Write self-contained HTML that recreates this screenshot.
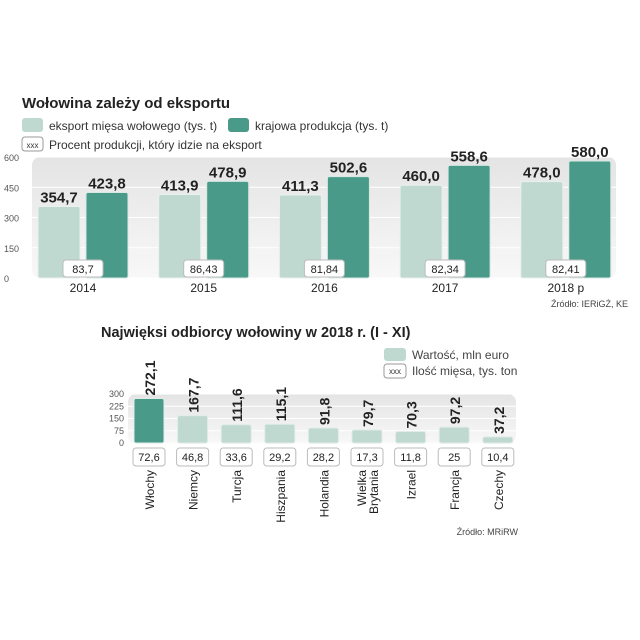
<!DOCTYPE html>
<html><head><meta charset="utf-8"><style>
body{margin:0;background:#fff;font-family:"Liberation Sans",sans-serif}
svg{display:block}
</style></head><body>
<svg id="c" width="640" height="640" viewBox="0 0 640 640">
<defs>
<linearGradient id="bg" x1="0" y1="0" x2="0" y2="1"><stop offset="0" stop-color="#e4e4e4"/><stop offset="1" stop-color="#f8f8f8"/></linearGradient>
</defs>
<text x="22" y="108" font-size="15" font-weight="bold" fill="#222">Wołowina zależy od eksportu</text>
<g><rect x="22" y="118" width="21" height="14" rx="3" fill="#bfd9d1"/><text x="49" y="130" font-size="12" fill="#333">eksport mięsa wołowego (tys. t)</text></g>
<g><rect x="228" y="118" width="21" height="14" rx="3" fill="#4a9a8a"/><text x="255" y="130" font-size="12" fill="#333">krajowa produkcja (tys. t)</text></g>
<g><rect x="22" y="137" width="21" height="14" rx="3" fill="#fff" stroke="#999"/><text x="32.5" y="148" font-size="8" text-anchor="middle" fill="#333">xxx</text><text x="49" y="149" font-size="12" fill="#333">Procent produkcji, który idzie na eksport</text></g>
<rect x="32" y="157" width="584" height="121" rx="8" fill="url(#bg)"/>
<g id="top"></g>
<text x="628" y="307" font-size="9" text-anchor="end" fill="#444">Źródło: IERiGŻ, KE</text>
<text x="101" y="337" font-size="14.5" font-weight="bold" fill="#222">Najwięksi odbiorcy wołowiny w 2018 r. (I - XI)</text>
<g><rect x="384" y="348" width="22" height="13" rx="3" fill="#bfd9d1"/><text x="412" y="359" font-size="12" fill="#444">Wartość, mln euro</text></g>
<g><rect x="384" y="364" width="22" height="14" rx="3" fill="#fff" stroke="#999"/><text x="395" y="374" font-size="8" text-anchor="middle" fill="#333">xxx</text><text x="412" y="375" font-size="12" fill="#444">Ilość mięsa, tys. ton</text></g>
<rect x="128" y="394" width="388" height="50" rx="8" fill="url(#bg)"/>
<g id="bot"></g>
<text x="518" y="535" font-size="9" text-anchor="end" fill="#444">Źródło: MRiRW</text>
</svg>
<script>
const years=["2014","2015","2016","2017","2018 p"];
const exportVals=[354.7,413.9,411.3,460.0,478.0];
const prodVals=[423.8,478.9,502.6,558.6,580.0];
const pctVals=["83,7","86,43","81,84","82,34","82,41"];
const topTicks=[0,150,300,450,600];
const countries=[["Włochy"],["Niemcy"],["Turcja"],["Hiszpania"],["Holandia"],["Wielka","Brytania"],["Izrael"],["Francja"],["Czechy"]];
const valueVals=[272.1,167.7,111.6,115.1,91.8,79.7,70.3,97.2,37.2];
const qtyVals=["72,6","46,8","33,6","29,2","28,2","17,3","11,8","25","10,4"];
const botTicks=[0,75,150,225,300];
const NS="http://www.w3.org/2000/svg";
function mk(p,t,a,txt){const e=document.createElementNS(NS,t);for(const k in a)e.setAttribute(k,a[k]);if(txt!=null)e.textContent=txt;p.appendChild(e);return e;}
const fmt=v=>v.toFixed(1).replace('.',',');
const T=document.getElementById('top');
const ty=v=>278-v*121/600;
const tx=i=>38+i*120.7;
topTicks.forEach(t=>{
 const l=mk(T,'line',{x1:32,x2:616,y1:ty(t),y2:ty(t),stroke:'#fff','stroke-width':1});
 
 
 const e=mk(T,'text',{x:4,y:ty(t)+4,'font-size':9,fill:'#555'},String(t));
 
 
});
years.forEach((y,i)=>{
 const x=tx(i);
 const a=mk(T,'rect',{x:x,y:ty(exportVals[i]),width:42,height:278-ty(exportVals[i]),rx:2,fill:'#bfd9d1',stroke:'#e8f1ee'});
 
 
 const b=mk(T,'rect',{x:x+48,y:ty(prodVals[i]),width:42,height:278-ty(prodVals[i]),rx:2,fill:'#4a9a8a',stroke:'#d8e8e3'});
 
 
 const la=mk(T,'text',{x:x+21,y:ty(exportVals[i])-4,'font-size':15,'font-weight':'bold','text-anchor':'middle',fill:'#222'},fmt(exportVals[i]));
 
 
 const lb=mk(T,'text',{x:x+69,y:ty(prodVals[i])-4,'font-size':15,'font-weight':'bold','text-anchor':'middle',fill:'#222'},fmt(prodVals[i]));
 
 
 const pb=mk(T,'rect',{x:x+25,y:260,width:40,height:17,rx:3,fill:'#fff',stroke:'#bbb'});
 
 
 const pt=mk(T,'text',{x:x+45,y:273,'font-size':11,'text-anchor':'middle',fill:'#222'},pctVals[i]);
 
 
 const yl=mk(T,'text',{x:x+45,y:292,'font-size':12,'text-anchor':'middle',fill:'#222'},y);
 
 
});
const B=document.getElementById('bot');
const by=v=>443-v*49/300;
const bx=i=>134+i*43.6;
botTicks.forEach(t=>{
 const l=mk(B,'line',{x1:128,x2:516,y1:by(t),y2:by(t),stroke:'#fff','stroke-width':1});
 
 
 const e=mk(B,'text',{x:124,y:by(t)+3,'font-size':9,'text-anchor':'end',fill:'#555'},String(t));
 
 
});
countries.forEach((c,i)=>{
 const x=bx(i);
 const r=mk(B,'rect',{x:x,y:by(valueVals[i]),width:30,height:443-by(valueVals[i]),rx:2,fill:i==0?'#4a9a8a':'#bfd9d1',stroke:'#e0ece8'});
 
 
 const ly=by(valueVals[i])-3;
 const lt=mk(B,'text',{x:0,y:0,'font-size':14,'font-weight':'bold',fill:'#222',transform:`translate(${x+21},${ly}) rotate(-90)`},fmt(valueVals[i]));
 
 
 const qb=mk(B,'rect',{x:x-1,y:448,width:32,height:18,rx:3,fill:'#fff',stroke:'#bbb'});
 
 
 const qt=mk(B,'text',{x:x+15,y:461,'font-size':11,'text-anchor':'middle',fill:'#222'},qtyVals[i]);
 
 
 c.forEach((line,j)=>{
  const off=c.length==1?5:(j==0?-1:11);
  const ct=mk(B,'text',{x:0,y:0,'font-size':12,'text-anchor':'end',fill:'#222',transform:`translate(${x+15+off},470) rotate(-90)`},line);
  
  
 });
});
</script>
</body></html>
